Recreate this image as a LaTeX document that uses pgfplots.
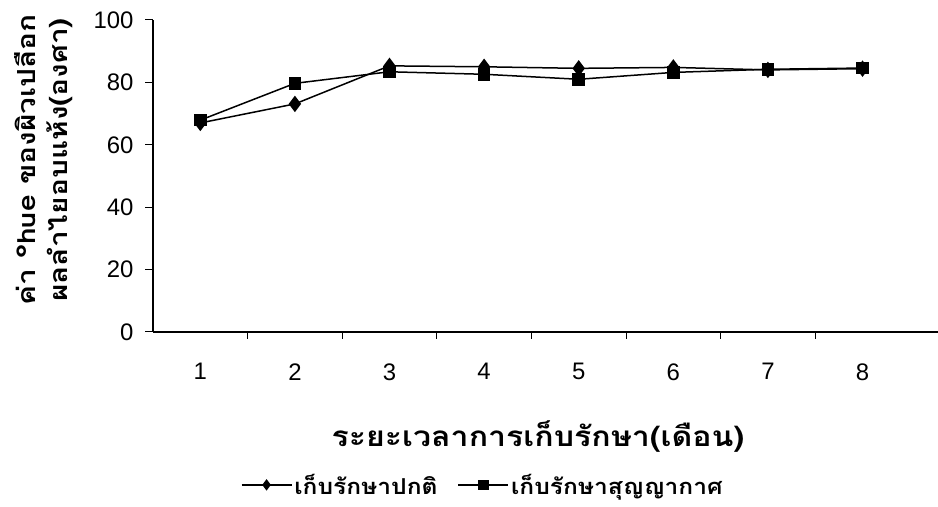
\documentclass[border=0pt]{standalone}
\usepackage{fontspec}
\setmainfont{Liberation Sans}
\newfontfamily\thaifont[Script=Thai]{Loma}
\usepackage{pgfplots}
\usepackage{pgfplotstable}
\pgfplotsset{compat=1.18}

% hue angle of the dried longan peel over storage time
\pgfplotstableread{
month normal vacuum
1 67.0 67.9
2 73.1 79.7
3 85.3 83.4
4 85.0 82.6
5 84.5 81.0
6 84.8 83.2
7 84.0 84.2
8 84.4 84.6
}\huedata

\newcommand{\wide}[2][1.12]{\scalebox{#1}[1]{#2}}

\begin{document}
\begin{tikzpicture}[x=1bp,y=1bp]
\useasboundingbox (0,0) rectangle (938,507);
\begin{axis}[
  at={(153bp,175bp)}, anchor=south west,
  x=94.6bp, y=3.12bp,
  xmin=0.5, xmax=8.80, ymin=0, ymax=100,
  axis x line=bottom, axis y line=left,
  axis line style={-, line width=1.2bp},
  xtick={1,...,8},
  minor xtick={1.5,2.5,3.5,4.5,5.5,6.5,7.5},
  major x tick style={draw=none},
  ytick={0,20,...,100},
  tick align=outside,
  major tick length=8bp, minor tick length=7bp,
  every tick/.style={black, line width=1bp},
  /pgf/number format/assume math mode=true,
  ticklabel style={font=\fontsize{24}{24}\selectfont},
  xticklabel style={yshift=-20bp},
  yticklabel style={xshift=-8bp},
  legend columns=2,
  legend style={draw=none, fill=none,
    at={(axis description cs:0.42,-0.49)}, anchor=center,
    font=\thaifont\bfseries\fontsize{22}{22}\selectfont,
    /tikz/every even column/.append style={column sep=18bp}},
  legend image code/.code={
    \draw[#1, mark=none] (0bp,0bp) -- (50bp,0bp);
    \path[#1, mark size=4.5bp] plot coordinates {(25bp,0bp)};
  },
]
\addplot[black, line width=1.5bp, mark=diamond*, mark size=7bp]
  table[x=month, y=normal] {\huedata};
\addlegendentry{\wide[1.12]{เก็บรักษาปกติ}}
\addplot[black, line width=1.5bp, mark=square*, mark size=5.5bp]
  table[x=month, y=vacuum] {\huedata};
\addlegendentry{\wide[1.12]{เก็บรักษาสุญญากาศ}}
\end{axis}
\node[font=\thaifont\bfseries\fontsize{28}{28}\selectfont] at (538,70)
  {\wide[1.15]{ระยะเวลาการเก็บรักษา(เดือน)}};
\node[rotate=90, font=\thaifont\bfseries\fontsize{25}{25}\selectfont] at (25,347)
  {\wide[1.2]{ค่า °hue ของผิวเปลือก}};
\node[rotate=90, font=\thaifont\bfseries\fontsize{25}{25}\selectfont] at (60,347)
  {\wide[1.2]{ผลลำไยอบแห้ง(องศา)}};
\end{tikzpicture}
\end{document}
